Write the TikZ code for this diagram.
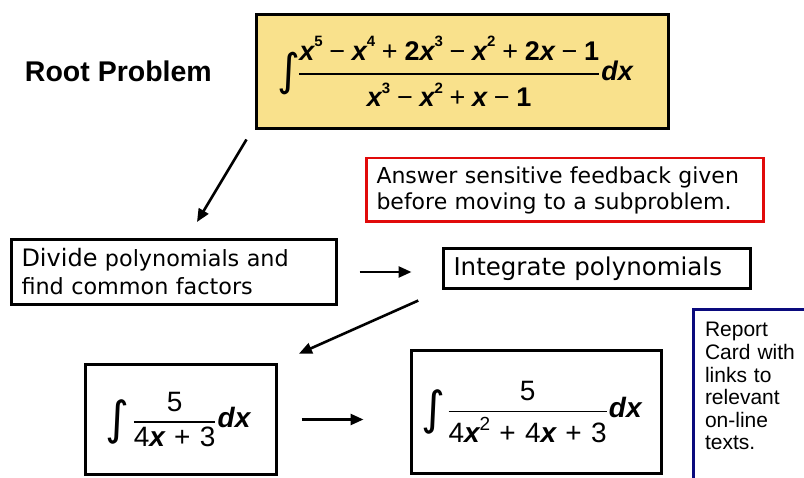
\documentclass[tikz,border=0pt]{standalone}
\usepackage{fontspec}
\usepackage{amsmath}
\setmainfont{DejaVu Sans}
\newfontfamily\arialfont{Liberation Sans}
\newfontfamily\intfont{DejaVu Sans}
\usetikzlibrary{arrows.meta, positioning, calc}
\definecolor{rootFill}{RGB}{249, 225, 140}
\definecolor{noteRed}{RGB}{225, 10, 10}
\definecolor{reportNavy}{RGB}{10, 10, 125}

% pieces of the integrals
\newcommand{\vx}{{\bfseries\itshape x}}
\newcommand{\dx}{\hspace{0.04em}{\bfseries\itshape dx}}
\newcommand{\pw}[1]{\raisebox{0.5em}{\fontsize{15}{15}\selectfont #1}}
\newcommand{\pwbig}[1]{\raisebox{0.42em}{\fontsize{19}{19}\selectfont #1}}
\newcommand{\opm}{\hspace{0.25em}{\mdseries −}\hspace{0.25em}}
\newcommand{\opp}{\hspace{0.25em}{\mdseries +}\hspace{0.25em}}
\newcommand{\oppwide}{\hspace{0.33em}+\hspace{0.33em}}
\newcommand{\intsign}[1]{$\vcenter{\hbox{\intfont\mdseries\upshape\fontsize{#1}{#1}\selectfont ∫}}$}
\newcommand{\numgap}{\rule[-8pt]{0pt}{8pt}}
\newcommand{\dengap}{\rule{0pt}{27pt}}

\begin{document}
\begin{tikzpicture}[
    x=1pt, y=-1pt,
    % Root problem box
    rootbox/.style={
        draw=black,
        fill=rootFill,
        rectangle,
        line width=3pt,
        inner sep=0pt,
        minimum width=412pt,
        minimum height=114pt,
        font=\arialfont\bfseries\fontsize{27}{30}\selectfont
    },
    % Plain label beside a box
    rootlabel/.style={
        inner sep=0pt,
        font=\arialfont\bfseries\fontsize{28.5}{32}\selectfont
    },
    % Feedback note
    notebox/.style={
        draw=noteRed,
        rectangle,
        line width=2.5pt,
        align=left,
        inner xsep=10pt,
        text width=377pt,
        minimum height=63.5pt,
        font=\fontsize{22}{26}\selectfont
    },
    % Subproblem step in words
    stepbox/.style={
        draw=black,
        rectangle,
        line width=3pt,
        align=left,
        inner xsep=10pt,
        font=\fontsize{22.3}{28}\selectfont
    },
    % Subproblem as an integral
    mathbox/.style={
        draw=black,
        rectangle,
        line width=3pt,
        inner sep=0pt,
        font=\arialfont\fontsize{28}{32}\selectfont
    },
    % Report card
    reportbox/.style={
        draw=reportNavy,
        rectangle,
        line width=3pt,
        align=left,
        inner xsep=11.5pt,
        inner ysep=13pt,
        text width=120pt,
        font=\arialfont\fontsize{21}{22.6}\selectfont
    },
    % Arrow Connection Style
    flow/.style={
        draw=black,
        -{Triangle[length=13pt,width=11pt]},
        line width=2.6pt
    }
]
    \useasboundingbox (0,0) rectangle (804,478);

    % Root problem
    \node (root) [rootbox] at (462.5,71.5) {\intsign{44}\hspace{-2pt}$\genfrac{}{}{1.6pt}{0}{\mbox{\vx\pw{5}\opm\vx\pw{4}\opp2\vx\pw{3}\opm\vx\pw{2}\opp2\vx\opm1\numgap}}{\mbox{\dengap\vx\pw{3}\opm\vx\pw{2}\opp\vx\opm1}}$\dx\rule{15pt}{0pt}};
    \node (rootname) [rootlabel, left=43pt of root] {Root Problem};
    \node (feedback) [notebox] at (565,190) {Answer sensitive feedback given\\before moving to a subproblem.};

    % Subproblems
    \node (divide) [stepbox, text width=305pt, minimum height=65pt] at (174,272) {{\fontsize{24}{28}\selectfont Divide} polynomials and\\find common factors};
    \node (integrate) [stepbox, text width=287pt, minimum height=40pt, font=\fontsize{24.5}{28}\selectfont] at (597,268.5) {Integrate polynomials};
    \node (linear) [mathbox, minimum width=191pt, minimum height=110pt] at (181,419.5) {\intsign{46}\hspace{3pt}$\genfrac{}{}{1.6pt}{0}{\mbox{5}}{\mbox{4\vx\oppwide3}}$\dx\rule{6pt}{0pt}};
    \node (quadratic) [mathbox, minimum width=250pt, minimum height=123pt] at (536.5,412) {\intsign{46}\hspace{2pt}$\genfrac{}{}{1.6pt}{0}{\mbox{5}}{\mbox{4\vx\pwbig{2}\oppwide4\vx\oppwide3}}$\dx\rule{10pt}{0pt}};

    % Report card
    \node (report) [reportbox, anchor=north west] at (692,308) {Report\\Card with\\links to\\relevant\\on-line\\texts.\\[40pt]~};

    % Connector Arrows
    \draw [flow] ([xshift=-8.5pt,yshift=-9.5pt]root.south west) -- ([xshift=23pt,yshift=16pt]divide.north);
    \draw [flow] ([xshift=21.5pt]divide.east) -- ([xshift=-30.5pt]divide.east -| integrate.west);
    \draw [flow, shorten <=26pt, shorten >=23pt] (integrate.south west) -- (linear.north east);
    \draw [flow] ([xshift=23.5pt]linear.east) -- ([xshift=-46.5pt]linear.east -| quadratic.west);

\end{tikzpicture}
\end{document}
